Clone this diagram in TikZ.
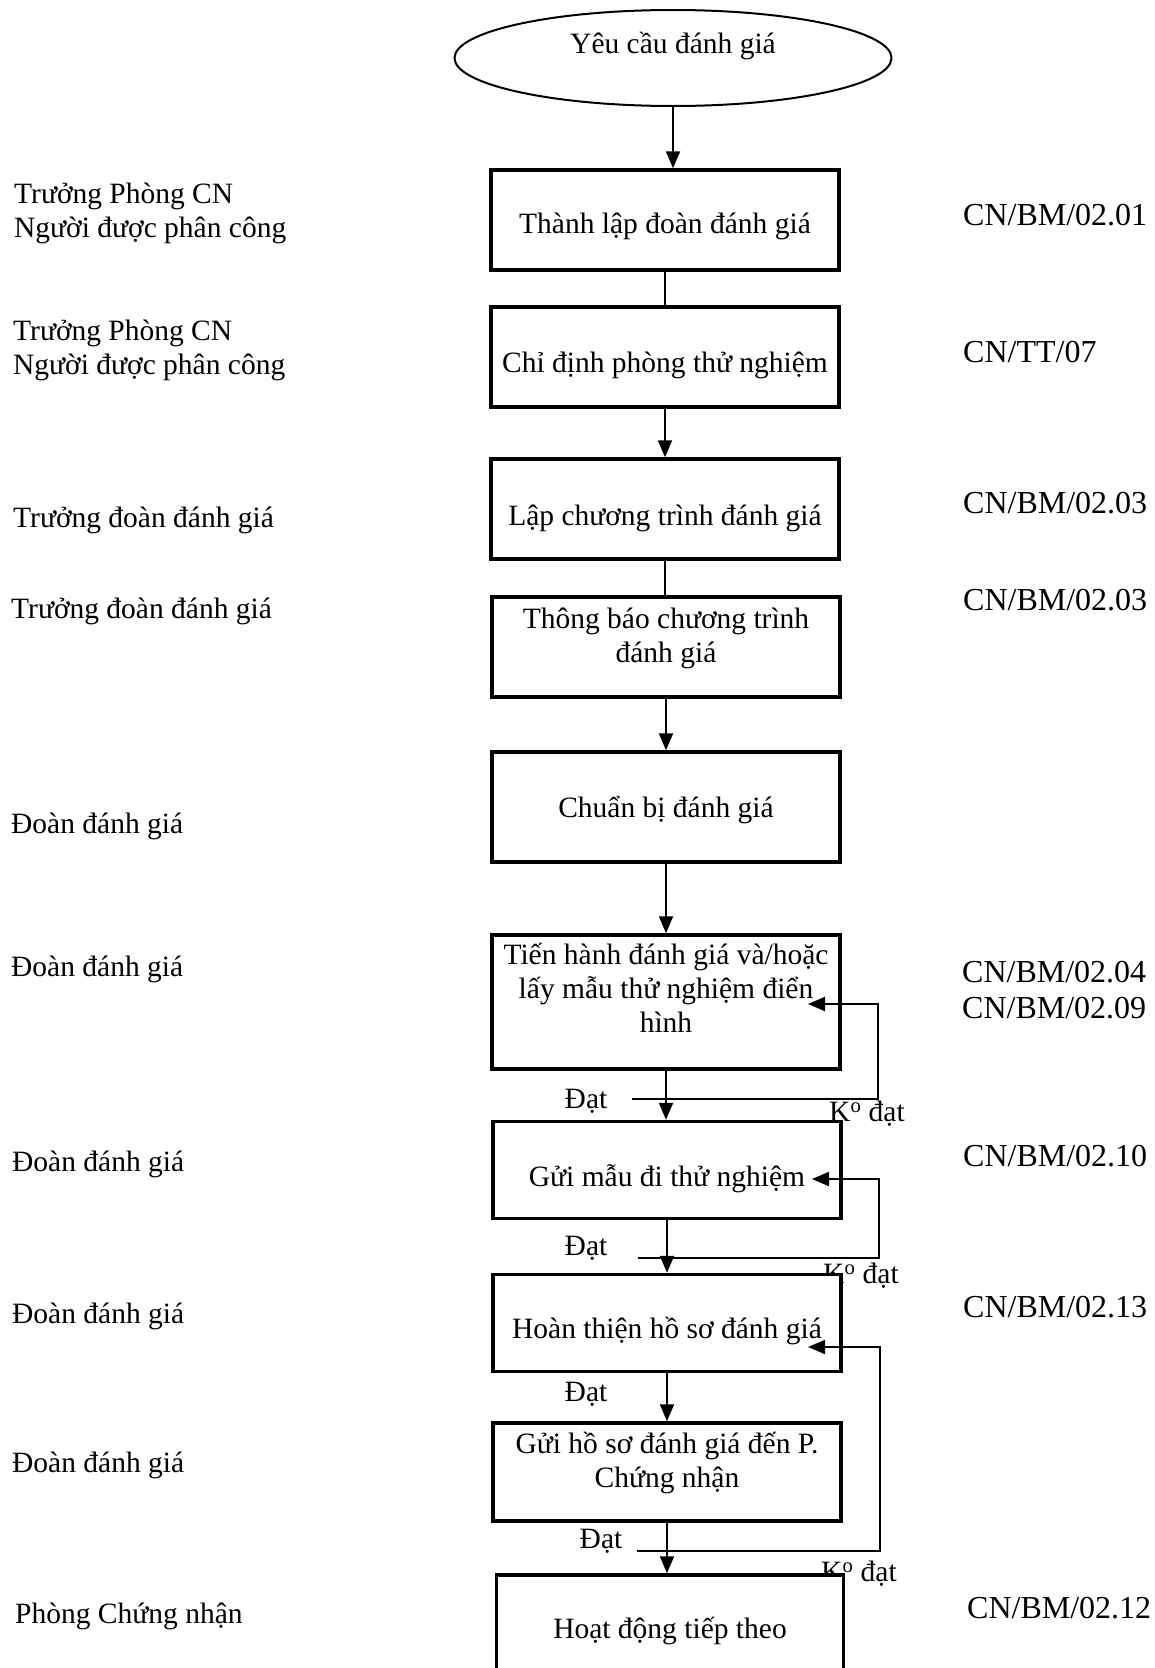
\documentclass[tikz,border=0pt]{standalone}
\usepackage{fontspec}
\setmainfont{Liberation Serif}
\usetikzlibrary{shapes.geometric,arrows.meta}
\begin{document}
\begin{tikzpicture}[x=1pt,y=-1pt,
  every node/.style={font=\fontsize{29.5}{34}\selectfont, inner sep=0pt},
  stepbox/.style={draw, line width=3.5pt, minimum width=348pt, fill=white},
  boxtext/.style={align=center},
  conn/.style={line width=2pt},
  arr/.style={conn, -{Triangle[length=17pt,width=14pt]}},
  side/.style={anchor=west, align=left},
  ref/.style={anchor=west, align=left, font=\fontsize{32}{36}\selectfont},
  lbl/.style={}
]
\useasboundingbox (0,0) rectangle (1155,1668);
\clip (0,0) rectangle (1155,1668);

% side labels (left)
\node[side] (r1) at (14,213) {Trưởng Phòng CN\\Người được phân công};
\node[side] (r2) at (13,350) {Trưởng Phòng CN\\Người được phân công};
\node[side] (r3) at (13,520) {Trưởng đoàn đánh giá};
\node[side] (r4) at (11,611) {Trưởng đoàn đánh giá};
\node[side] (r5) at (11,826) {Đoàn đánh giá};
\node[side] (r6) at (11,969) {Đoàn đánh giá};
\node[side] (r7) at (12,1164) {Đoàn đánh giá};
\node[side] (r8) at (12,1316) {Đoàn đánh giá};
\node[side] (r9) at (12,1465) {Đoàn đánh giá};
\node[side] (r10) at (15,1616) {Phòng Chứng nhận};

% document codes (right)
\node[ref] (c1) at (963,215) {CN/BM/02.01};
\node[ref] (c2) at (963,352) {CN/TT/07};
\node[ref] (c3) at (963,503) {CN/BM/02.03};
\node[ref] (c4) at (963,600) {CN/BM/02.03};
\node[ref] (c6) at (962,990) {CN/BM/02.04\\CN/BM/02.09};
\node[ref] (c7) at (963,1156) {CN/BM/02.10};
\node[ref] (c8) at (963,1307) {CN/BM/02.13};
\node[ref] (c10) at (967,1608) {CN/BM/02.12};

% decision labels
\node[lbl] (ok1) at (586,1101) {Đạt};
\node[lbl] (ok2) at (586,1248) {Đạt};
\node[lbl] (ok3) at (586,1394) {Đạt};
\node[lbl] (ok4) at (601,1541) {Đạt};
\node[lbl] (ko1) at (867,1114) {K\textsuperscript{o} đạt};
\node[lbl] (ko2) at (861,1276) {K\textsuperscript{o} đạt};
\node[lbl] (ko3) at (859,1574) {K\textsuperscript{o} đạt};

% start ellipse
\node[draw, ellipse, line width=2pt, minimum width=437pt, minimum height=96pt] (e) at (673,58) {};
\node (te) at (673,46) {Yêu cầu đánh giá};

% boxes
\node[stepbox, minimum height=100pt] (b1) at (665,220) {};
\node[stepbox, minimum height=100pt] (b2) at (665,357) {};
\node[stepbox, minimum height=100pt] (b3) at (665,509) {};
\node[stepbox, minimum height=100pt] (b4) at (666,647) {};
\node[stepbox, minimum height=110pt] (b5) at (666,807) {};
\node[stepbox, minimum height=134pt] (b6) at (666,1002) {};
\node[stepbox, minimum height=97pt] (b7) at (667,1170) {};
\node[stepbox, minimum height=97pt] (b8) at (667,1323) {};
\node[stepbox, minimum height=98pt] (b9) at (667,1472) {};
\node[stepbox, minimum width=347pt, minimum height=140pt] (b10) at (670,1645) {};

% box texts
\node[boxtext] (t1) at (665,226) {Thành lập đoàn đánh giá};
\node[boxtext] (t2) at (665,365) {Chỉ định phòng thử nghiệm};
\node[boxtext] (t3) at (665,518) {Lập chương trình đánh giá};
\node[boxtext] (t4) at (666,638) {Thông báo chương trình\\đánh giá};
\node[boxtext] (t5) at (666,810) {Chuẩn bị đánh giá};
\node[boxtext] (t6) at (666,988) {Tiến hành đánh giá và/hoặc\\lấy mẫu thử nghiệm điển\\hình};
\node[boxtext] (t7) at (667,1179) {Gửi mẫu đi thử nghiệm};
\node[boxtext] (t8) at (667,1331) {Hoàn thiện hồ sơ đánh giá};
\node[boxtext] (t9) at (667,1463) {Gửi hồ sơ đánh giá đến P.\\Chứng nhận};
\node[boxtext] (t10) at (670,1631) {Hoạt động tiếp theo};

% main flow
\draw[arr] (e.south) -- (e.south |- b1.north);
\draw[conn] (b1.south) -- (b1.south |- b2.north);
\draw[arr] (b2.south) -- (b2.south |- b3.north);
\draw[conn] (b3.south) -- (b3.south |- b4.north);
\draw[arr] (b4.south) -- (b4.south |- b5.north);
\draw[arr] (b5.south) -- (b5.south |- b6.north);
\draw[arr] (b6.south) -- (b6.south |- b7.north);
\draw[arr] (b7.south) -- (b7.south |- b8.north);
\draw[arr] (b8.south) -- (b8.south |- b9.north);
\draw[arr] (b9.south) -- (b9.south |- b10.north);

% feedback loops
\coordinate (l1s) at (632,1099);
\coordinate (l1c) at (878,1099);
\coordinate (l1t) at (808,1004);
\draw[arr] (l1s) -- (l1c) |- (l1t);
\coordinate (l2s) at (638,1258);
\coordinate (l2c) at (879,1258);
\coordinate (l2t) at (812,1179);
\draw[arr] (l2s) -- (l2c) |- (l2t);
\coordinate (l3s) at (637,1551);
\coordinate (l3c) at (880,1551);
\coordinate (l3t) at (808,1347);
\draw[arr] (l3s) -- (l3c) |- (l3t);
\end{tikzpicture}
\end{document}
